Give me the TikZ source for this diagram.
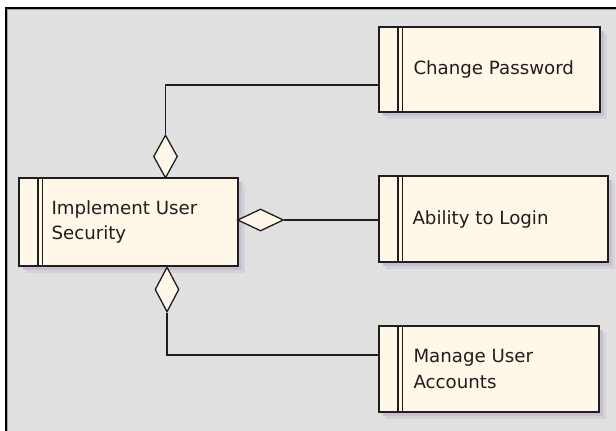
\documentclass[tikz,border=0pt]{standalone}
\usepackage{fontspec}
\setmainfont{DejaVu Sans}
\usetikzlibrary{shapes.geometric,calc}
\definecolor{bg}{HTML}{E0E0E0}
\definecolor{boxfill}{HTML}{FFF7E8}
\definecolor{shadowA}{HTML}{D6D0DA}
\definecolor{shadowB}{HTML}{C8C0CC}
\definecolor{ink}{HTML}{1E1E1E}
\tikzset{
  reqbox/.style={draw=ink, line width=1.4pt, fill=boxfill, inner sep=0pt,
    path picture={
      \draw[ink, line width=1.2pt] ([xshift=19pt]path picture bounding box.north west) -- ([xshift=19pt]path picture bounding box.south west);
      \draw[ink, line width=1.2pt] ([xshift=23.5pt]path picture bounding box.north west) -- ([xshift=23.5pt]path picture bounding box.south west);
    }},
  reqtext/.style={anchor=west, align=left, inner sep=0pt, text=ink, font=\fontsize{18.2pt}{25.5pt}\selectfont},
  agg/.style={diamond, draw=ink, line width=1.3pt, fill=boxfill, inner sep=0pt},
  conn/.style={draw=ink, line width=1.4pt}
}
\newcommand{\reqshadow}[4]{%
  \fill[shadowA] (#1+7,#2+7) rectangle (#3+7,#4+7);
  \fill[shadowB] (#1+4,#2+4) rectangle (#3+4,#4+4);
}
\begin{document}
\begin{tikzpicture}[x=1pt,y=-1pt]
\useasboundingbox (0,0) rectangle (616,431);
\fill[white] (0,0) rectangle (616,431);
\fill[bg] (6,8) rectangle (616,431);
\draw[black, line width=2pt] (6,431) -- (6,8) -- (616,8);
\draw[gray!70, line width=1pt] (7.8,431) -- (7.8,9.8) -- (616,9.8);

% shadows
\reqshadow{19}{178}{238}{266}
\reqshadow{379}{27}{600}{112}
\reqshadow{379}{176}{608}{262}
\reqshadow{379}{326}{599}{412}

% boxes
\node[reqbox, minimum width=219pt, minimum height=88pt] (imp) at (128.5,222) {};
\node[reqbox, minimum width=221pt, minimum height=85pt] (cp) at (489.5,69.5) {};
\node[reqbox, minimum width=229pt, minimum height=86pt] (al) at (493.5,219) {};
\node[reqbox, minimum width=220pt, minimum height=86pt] (mu) at (489,369) {};

\node[reqtext] (impt) at ([xshift=33pt]imp.west) {Implement User\\Security};
\node[reqtext] (cpt) at ([xshift=35pt]cp.west) {Change Password};
\node[reqtext] (alt) at ([xshift=34pt]al.west) {Ability to Login};
\node[reqtext] (mut) at ([xshift=35pt]mu.west) {Manage User\\Accounts};

% aggregation diamonds
\node[agg, minimum width=24pt, minimum height=43pt] (dtop) at (165.5,156.5) {};
\node[agg, minimum width=46pt, minimum height=22pt] (dright) at (260.5,220) {};
\node[agg, minimum width=24pt, minimum height=45pt] (dbot) at (167,289.5) {};

% connectors
\draw[conn] ([yshift=-15.5pt]cp.west) -| (dtop.north);
\draw[conn] (dright.east) -- (dright.east -| al.west);
\draw[conn] (dbot.south) |- ([yshift=14pt]mu.west);
\end{tikzpicture}
\end{document}
